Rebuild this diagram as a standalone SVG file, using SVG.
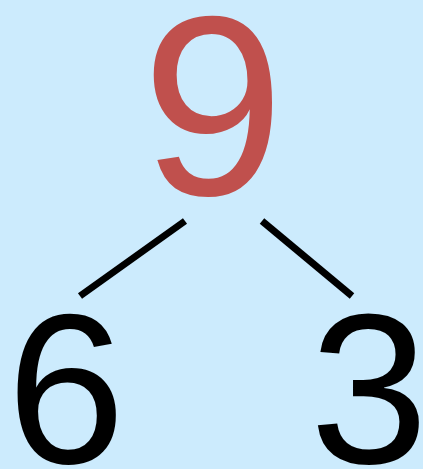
<svg xmlns="http://www.w3.org/2000/svg" width="423" height="469" viewBox="0 0 423 469">
<style>
.num{font-family:"Liberation Sans",Arial,sans-serif;text-anchor:middle}
.edge{stroke:#000;stroke-width:7;fill:none}
</style>
<rect width="423" height="469" fill="#CCEBFD"/>
<g id="connectors">
<line class="edge" x1="185" y1="221" x2="80" y2="296"/>
<line class="edge" x1="262" y1="221" x2="352" y2="296"/>
</g>
<g id="root"><text class="num" x="213" y="195" font-size="256" fill="#C0504D">9</text></g>
<g id="left"><text class="num" x="66" y="463" font-size="213" fill="#000">6</text></g>
<g id="right"><text class="num" x="369" y="463" font-size="213" fill="#000">3</text></g>
</svg>
